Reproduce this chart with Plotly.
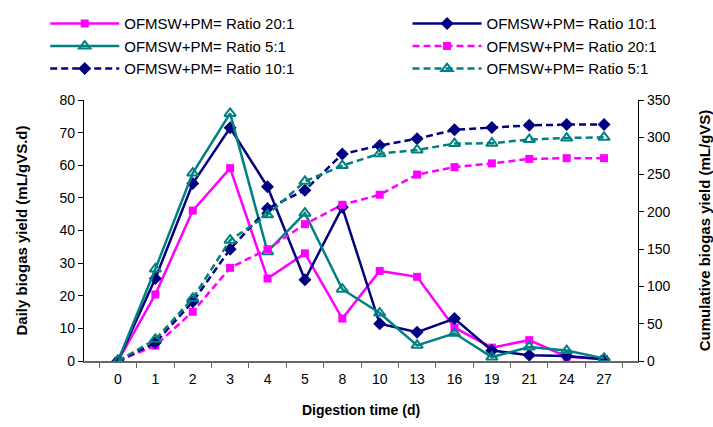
import plotly.graph_objects as go

# Sampling days (categorical axis)
days = ["0", "1", "2", "3", "4", "5", "8", "10", "13", "16", "19", "21", "24", "27"]

# Daily biogas yield (mL/gVS.d)
daily_20_1 = [0, 20.4, 46.1, 59.1, 25.3, 33.0, 13.0, 27.6, 25.8, 10.2, 4.1, 6.4, 1.3, 0.6]
daily_10_1 = [0, 25.3, 54.4, 71.5, 53.4, 24.9, 47.1, 11.4, 8.8, 13.0, 3.2, 1.8, 1.5, 0.5]
daily_5_1 = [0, 28.2, 57.6, 75.9, 33.5, 45.3, 22.0, 14.7, 4.8, 8.5, 1.2, 4.3, 3.2, 0.8]

# Cumulative biogas yield (mL/gVS)
cum_20_1 = [0, 20.5, 66, 125, 150, 183.5, 209.5, 223, 250, 260, 265, 271, 272, 272]
cum_10_1 = [0, 24.5, 79.5, 150, 204.5, 229, 277.5, 289, 298, 310, 313, 316, 317, 317]
cum_5_1 = [0, 29, 84, 162, 196, 241, 262, 278, 283, 291.5, 292, 297, 299, 300]

label_20 = "OFMSW+PM= Ratio 20:1"
label_10 = "OFMSW+PM= Ratio 10:1"
label_5 = "OFMSW+PM= Ratio 5:1"

PINK = "#FF00FF"
NAVY = "#000080"
TEAL = "#008080"
DASH = "7px,4px"
FONT = "Liberation Sans, Arial, sans-serif"

fig = go.Figure()

# Solid lines: daily yield (left axis)
fig.add_trace(go.Scatter(
    x=days, y=daily_20_1, name=label_20, mode="lines+markers", legend="legend",
    line=dict(color=PINK, width=2.5),
    marker=dict(symbol="square", size=8, color=PINK),
))
fig.add_trace(go.Scatter(
    x=days, y=daily_10_1, name=label_10, mode="lines+markers", legend="legend2",
    line=dict(color=NAVY, width=2.5),
    marker=dict(symbol="diamond", size=10, color=NAVY),
))
fig.add_trace(go.Scatter(
    x=days, y=daily_5_1, name=label_5, mode="lines+markers", legend="legend",
    line=dict(color=TEAL, width=2.5),
    marker=dict(symbol="triangle-up-open", size=10, color=TEAL,
                line=dict(color=TEAL, width=2)),
))

# Dashed lines: cumulative yield (right axis)
fig.add_trace(go.Scatter(
    x=days, y=cum_20_1, name=label_20, mode="lines+markers", yaxis="y2",
    legend="legend2",
    line=dict(color=PINK, width=2.5, dash=DASH),
    marker=dict(symbol="square", size=8, color=PINK),
))
fig.add_trace(go.Scatter(
    x=days, y=cum_10_1, name=label_10, mode="lines+markers", yaxis="y2",
    legend="legend",
    line=dict(color=NAVY, width=2.5, dash=DASH),
    marker=dict(symbol="diamond", size=10, color=NAVY),
))
fig.add_trace(go.Scatter(
    x=days, y=cum_5_1, name=label_5, mode="lines+markers", yaxis="y2",
    legend="legend2",
    line=dict(color=TEAL, width=2.5, dash=DASH),
    marker=dict(symbol="triangle-up-open", size=10, color=TEAL,
                line=dict(color=TEAL, width=2)),
))

legend_style = dict(
    orientation="v",
    yanchor="top",
    itemwidth=69,
    font=dict(family=FONT, size=15, color="black"),
    bgcolor="rgba(0,0,0,0)",
    tracegroupgap=0,
)

fig.update_layout(
    width=713, height=427,
    margin=dict(l=84, r=75, t=100, b=66, autoexpand=False),
    paper_bgcolor="white", plot_bgcolor="white",
    font=dict(family=FONT, size=14, color="black"),
    showlegend=True,
    legend=dict(x=-0.070, xanchor="left", y=1.355, **legend_style),
    legend2=dict(x=0.584, xanchor="left", y=1.355, **legend_style),
    xaxis=dict(
        type="category",
        categoryorder="array", categoryarray=days,
        tickson="boundaries",
        ticks="outside", ticklen=5, tickcolor="#666666", tickwidth=1,
        showline=True, linecolor="#666666", linewidth=1.5,
        showgrid=False, zeroline=False,
        ticklabelstandoff=4,
        tickfont=dict(family=FONT, size=14),
        title=dict(text="<b>Digestion time (d)</b>",
                   font=dict(family=FONT, size=14), standoff=20),
    ),
    yaxis=dict(
        range=[0, 80], dtick=10,
        ticks="outside", ticklen=5, tickcolor="black", tickwidth=1,
        showline=True, linecolor="black", linewidth=1.2,
        showgrid=False, zeroline=False,
        tickfont=dict(family=FONT, size=14),
        title=dict(text="<b>Daily biogas yield (mL/gVS.d)</b>",
                   font=dict(family=FONT, size=15), standoff=28),
    ),
    yaxis2=dict(
        range=[0, 350], dtick=50,
        overlaying="y", side="right",
        ticks="outside", ticklen=5, tickcolor="black", tickwidth=1,
        showline=True, linecolor="black", linewidth=1.2,
        showgrid=False, zeroline=False,
        tickfont=dict(family=FONT, size=14),
        title=dict(text="<b>Cumulative biogas yield (mL/gVS)</b>",
                   font=dict(family=FONT, size=15), standoff=31),
    ),
)

fig.write_html("out.html")
